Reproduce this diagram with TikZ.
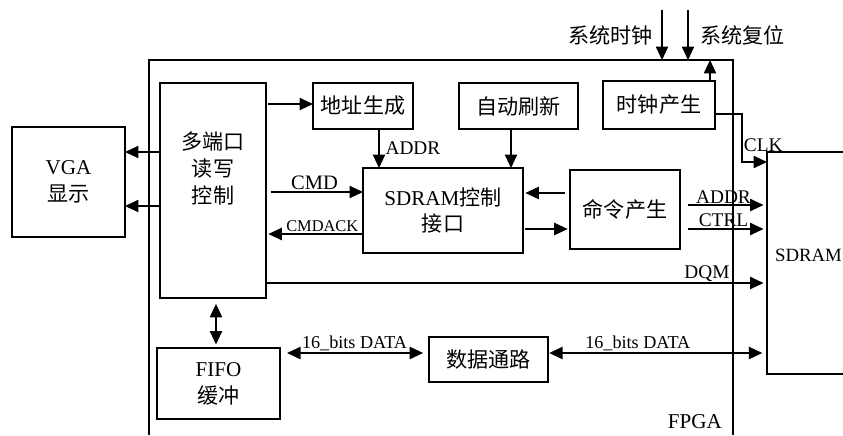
\documentclass[tikz,border=0pt]{standalone}
\usepackage{fontspec}
\setmainfont{Liberation Serif}
\newfontfamily\cjk[Scale=1.0]{Noto Sans CJK SC}
\usetikzlibrary{arrows.meta,positioning}

\begin{document}
\begin{tikzpicture}[x=0.03cm,y=-0.03cm,line join=miter,
  font=\fontsize{18pt}{23pt}\selectfont,
  box/.style={draw,line width=1.2pt,inner sep=0pt,outer sep=0pt,align=center},
  arr/.style={-{Triangle[length=11.5pt,width=10.5pt]},line width=1.2pt},
  biarr/.style={{Triangle[length=11.5pt,width=10.5pt]}-{Triangle[length=11.5pt,width=10.5pt]},line width=1.2pt},
  lab/.style={font=\fontsize{16.5pt}{18pt}\selectfont,inner sep=1pt},
  datalab/.style={lab,font=\fontsize{15.5pt}{18pt}\selectfont}]
\path[use as bounding box] (0,0) rectangle (843,435);
\fill[white] (0,0) rectangle (843,435);
% FPGA frame, open at the bottom
\draw[line width=1.2pt] (149,435) |- (733,60) -- (733,435);
\coordinate (fpgatop) at (441,60);
\node[anchor=east] (fpgalab) at (726,422) {FPGA};
% SDRAM chip, running off to the right
\draw[line width=1.2pt] (843,152) -| (767,374) -- (843,374);
\coordinate (sdram) at (767,263);
\node[anchor=west,inner sep=0pt,font=\fontsize{16pt}{20pt}\selectfont] (sdramlab) at (775,255) {SDRAM};

\node[box,minimum width=3.39cm,minimum height=3.3cm] (vga) at (68.5,182) {VGA\\\cjk 显示};
\node[box,minimum width=3.18cm,minimum height=6.45cm] (mport) at (213,190.5) {};
\node[align=center] (mporttxt) at (213,168) {\cjk 多端口\\\cjk 读写\\\cjk 控制};
\node[box,minimum width=3cm,minimum height=1.38cm] (addr) at (363,106) {\cjk 地址生成};
\node[box,minimum width=3.57cm,minimum height=1.38cm] (refresh) at (518.5,106) {\cjk 自动刷新};
\node[box,minimum width=3.36cm,minimum height=1.44cm] (clkgen) at (659,105) {\cjk 时钟产生};
\node[box,minimum width=4.8cm,minimum height=2.55cm] (ctrl) at (443,210.5) {SDRAM\cjk 控制\\\cjk 接口};
\node[box,minimum width=3.3cm,minimum height=2.37cm] (cmdgen) at (625,209.5) {\cjk 命令产生};
\node[box,minimum width=3.69cm,minimum height=2.13cm] (fifo) at (218.5,383.5) {FIFO\\\cjk 缓冲};
\node[box,minimum width=3.57cm,minimum height=1.35cm] (datapath) at (488.5,359.5) {\cjk 数据通路};

% clock and reset inputs
\coordinate (sysclk) at (662,10);
\coordinate (sysrst) at (688,10);
\draw[arr] (sysclk) -- (sysclk |- fpgatop);
\draw[arr] (sysrst) -- (sysrst |- fpgatop);
\node[anchor=east] (sysclklab) at (657,35) {\cjk 系统时钟};
\node[anchor=west] (sysrstlab) at (696,35) {\cjk 系统复位};
\draw[arr] (710,0 |- clkgen.north) -- (710,0 |- fpgatop);
\draw[arr] (clkgen.east |- 0,114) -| (742,162) -- node[lab,anchor=south west,pos=0,yshift=7pt]{CLK} (sdram |- 0,162);

% control paths
\draw[arr] (mport.west |- 0,152) -- (vga.east |- 0,152);
\draw[arr] (mport.west |- 0,206) -- (vga.east |- 0,206);
\draw[arr,shorten <=2pt] (mport.east |- 0,104) -- (addr.west |- 0,104);
\draw[arr] (379,0 |- addr.south) -- node[lab,anchor=west,xshift=4pt]{ADDR} (379,0 |- ctrl.north);
\draw[arr] (511,0 |- refresh.south) -- (511,0 |- ctrl.north);
\draw[arr,shorten <=4pt] (mport.east |- 0,192) -- node[lab,above,font=\fontsize{17.5pt}{18pt}\selectfont]{CMD} (ctrl.west |- 0,192);
\draw[arr,shorten >=2pt] (ctrl.west |- 0,234) -- node[lab,above,pos=.42,font=\fontsize{14pt}{16pt}\selectfont]{CMDACK} (mport.east |- 0,234);
\draw[arr,shorten <=4pt,shorten >=2pt] (cmdgen.west |- 0,193) -- (ctrl.east |- 0,193);
\draw[arr,shorten <=2pt,shorten >=2pt] (ctrl.east |- 0,229) -- (cmdgen.west |- 0,229);
\draw[arr,shorten <=7pt,shorten >=3pt] (cmdgen.east |- 0,205) -- node[lab,above]{ADDR} (sdram |- 0,205);
\draw[arr,shorten <=7pt,shorten >=3pt] (cmdgen.east |- 0,229) -- node[lab,above]{CTRL} (sdram |- 0,229);
\draw[arr,shorten >=3pt] (mport.east |- 0,283) -- node[lab,above,pos=.88]{DQM} (sdram |- 0,283);

% data paths
\draw[biarr,shorten <=5pt,shorten >=3pt] (216,0 |- mport.south) -- (216,0 |- fifo.north);
\draw[biarr,shorten <=6pt,shorten >=5pt] (fifo.east |- 0,353) -- node[datalab,above]{16\_bits DATA} (datapath.west |- 0,353);
\draw[biarr,shorten <=1pt,shorten >=4pt] (datapath.east |- 0,353) -- node[datalab,above,pos=.41]{16\_bits DATA} (sdram |- 0,353);
\end{tikzpicture}
\end{document}
